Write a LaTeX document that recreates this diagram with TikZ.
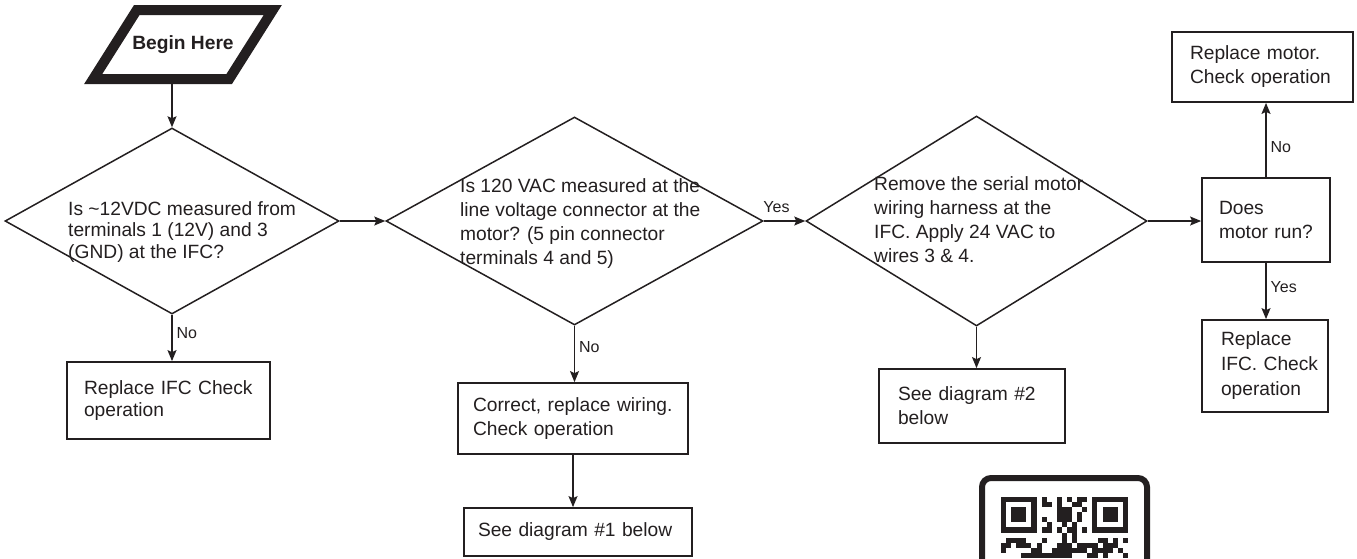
\documentclass[tikz,border=0pt]{standalone}
\usepackage{fontspec}
\setmainfont{Liberation Sans}
\usetikzlibrary{shapes.geometric, arrows.meta}
\definecolor{ink}{HTML}{231F20}
\hyphenpenalty=10000

\begin{document}
\begin{tikzpicture}[
    x=1pt, y=-1pt, color=ink,
    font=\fontsize{19.2}{24}\selectfont,
    decision/.style 2 args={diamond, draw, line width=1.5pt, inner sep=0pt, minimum width=#1, minimum height=#2},
    qtext/.style={anchor=north west, inner sep=0pt, align=left},
    action/.style 2 args={rectangle, draw, line width=1.8pt, inner xsep=19pt, inner ysep=0pt, text width=#1, minimum height=#2, align=left},
    arr/.style={-{Stealth[length=11pt, width=9pt, inset=2pt]}, line width=1.3pt},
    lbl/.style={font=\fontsize{16}{18}\selectfont, inner sep=4pt},
  ]
    \useasboundingbox (0,0) rectangle (1357,558);

    % start (thick parallelogram)
    \draw[line width=10pt] (93.2,79) -- (136.8,10) -- (272.8,10) -- (229.2,79) -- cycle;
    \node[font=\bfseries\fontsize{19.2}{24}\selectfont] (start) at (183,44.5) {Begin Here};
    \coordinate (startbot) at (183,84);

    % the three checks
    \node[decision={334pt}{186pt}] (q1) at (172,221) {};
    \node[qtext, font=\fontsize{19.2}{21.7}\selectfont] (q1txt) at (68,201) {Is \textasciitilde12VDC measured from\\terminals 1 (12V) and 3\\(GND) at the IFC?};
    \node[decision={377pt}{208pt}] (q2) at (574.5,221) {};
    \node[qtext] (q2txt) at (460,178) {Is 120 VAC measured at the\\line voltage connector at the\\motor? (5 pin connector\\terminals 4 and 5)};
    \node[decision={341pt}{210pt}] (q3) at (976.5,221) {};
    \node[qtext] (q3txt) at (874,176) {Remove the serial motor\\wiring harness at the\\IFC. Apply 24 VAC to\\wires 3 \& 4.};

    % actions
    \node[action={169pt}{77pt}, inner xsep=17pt, font=\fontsize{19.2}{21.7}\selectfont] (ifc1) at (168.5,400.5) {Replace IFC Check\\operation};
    \node[action={200pt}{71pt}, inner xsep=15pt] (fixwire) at (573,418.5) {Correct, replace wiring.\\Check operation};
    \node[action={200pt}{48pt}, inner xsep=14pt] (see1) at (578,532) {See diagram \#1 below};
    \node[action={148pt}{74pt}] (see2) at (972,406) {See diagram \#2\\below};
    \node[action={94pt}{84pt}, inner xsep=17pt] (run) at (1266,220) {Does\\motor run?};
    \node[action={145pt}{70pt}, inner xsep=18pt] (motor) at (1262.5,67) {Replace motor.\\Check operation};
    \node[action={88pt}{92pt}, font=\fontsize{19.2}{25}\selectfont] (ifc2) at (1265,366) {Replace\\IFC.~Check\\operation};

    % connectors
    \draw[arr] (startbot -| q1.north) -- (q1.north);
    \draw[arr] (q1.south) -- (q1.south |- ifc1.north) node[lbl, pos=0.4, right] (no1) {No};
    \draw[arr] (q1.east) -- (q2.west);
    \draw[arr] (q2.south) -- (q2.south |- fixwire.north) node[lbl, pos=0.38, right] (no2) {No};
    \draw[arr] (fixwire.south) -- (fixwire.south |- see1.north);
    \draw[arr] (q2.east) -- (q3.west) node[lbl, pos=0, anchor=south west, inner sep=2pt, xshift=-3pt, yshift=6pt] (yes1) {Yes};
    \draw[arr] (q3.south) -- (q3.south |- see2.north);
    \draw[arr] (q3.east) -- (q3.east -| run.west);
    \draw[arr] (run.north) -- (run.north |- motor.south) node[lbl, pos=0.4, right] (no3) {No};
    \draw[arr] (run.south) -- (run.south |- ifc2.north) node[lbl, pos=0.43, right] (yes2) {Yes};

    % qr code, cut off by the page edge
    \begin{scope}
      \clip (0,0) rectangle (1357,558);
      \draw[line width=6pt, rounded corners=9pt] (982,478) rectangle (1147,640);
      \foreach \fx in {1001,1092.4} {
        \fill (\fx,497) rectangle ++(35.56,35.56);
        \fill[white] (\fx+5.08,502.08) rectangle ++(25.4,25.4);
        \fill (\fx+10.16,507.16) rectangle ++(15.24,15.24);
      }
      \pgfmathsetseed{23}
      \foreach \c in {8,...,16}
        \foreach \r in {0,...,7} {
          \pgfmathsetmacro\v{rnd}
          \ifdim\v pt<0.5pt \fill ({1001+5.08*\c},{497+5.08*\r}) rectangle ++(5.08,5.08); \fi
        }
      \foreach \c in {0,...,24}
        \foreach \r in {8,...,11} {
          \pgfmathsetmacro\v{rnd}
          \ifdim\v pt<0.5pt \fill ({1001+5.08*\c},{497+5.08*\r}) rectangle ++(5.08,5.08); \fi
        }
    \end{scope}
  \end{tikzpicture}
\end{document}
